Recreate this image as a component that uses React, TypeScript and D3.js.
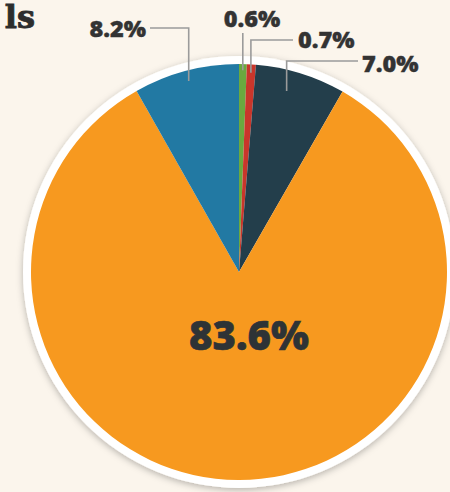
import React from "react";
import * as d3 from "d3";

const categories = ["Green", "Red", "Navy", "Orange", "Blue"];
const values = [0.6, 0.7, 7.0, 83.6, 8.2];
const labels = ["0.6%", "0.7%", "7.0%", "83.6%", "8.2%"];
const colors = ["#6aa93f", "#c9362b", "#233e4b", "#f7991f", "#2279a3"];

const W = 450, H = 492;
const cx = 239, cy = 272, R = 208;

// label layout: text position, leader style
const layout: any[] = [
  { tx: 252, ty: 27, anchor: "middle", frac: 0.5, rr: 0.97, lineY: 33, fromX: null, size: 23.5 },
  { tx: 298, ty: 48, anchor: "start", frac: 0.5, rr: 0.96, lineY: 40, fromX: 293, size: 23.5 },
  { tx: 362, ty: 72, anchor: "start", frac: 0.4, rr: 0.9, lineY: 61, fromX: 358, size: 23.5 },
  null,
  { tx: 146, ty: 37, anchor: "end", frac: 0.5, rr: 0.95, lineY: 28, fromX: 150, size: 23.5 },
];

export default function App() {
  const pie = d3.pie<number>().sort(null).value((d) => d).startAngle(0).endAngle(Math.PI * 2);
  const arcs = pie(values);
  const arc = d3.arc<any>().innerRadius(0).outerRadius(R);
  return (
    <div style={{ position: "fixed", left: 0, top: 0, width: W, height: H }}>
      <svg width={W} height={H} style={{ display: "block", background: "#fbf5ec" }}>
        <defs>
          <filter id="sh" x="-20%" y="-20%" width="140%" height="140%">
            <feDropShadow dx="0" dy="2" stdDeviation="3.5" floodColor="#000" floodOpacity="0.28" />
          </filter>
        </defs>
        <rect width={W} height={H} fill="#fbf5ec" />
        <text x={35} y={28} textAnchor="end" fontFamily="DejaVu Serif" fontWeight="bold" fontSize={32} fill="#2d2d2d" stroke="#2d2d2d" strokeWidth={0.9}>ls</text>
        <circle cx={cx} cy={cy} r={R + 8} fill="#ffffff" filter="url(#sh)" />
        <g transform={`translate(${cx},${cy})`}>
          {arcs.map((a, i) => (
            <path key={categories[i]} d={arc(a) as string} fill={colors[i]} />
          ))}
        </g>
        {arcs.map((a, i) => {
          const L = layout[i];
          if (!L) return null;
          const ang = a.startAngle + (a.endAngle - a.startAngle) * L.frac;
          const ax = cx + R * L.rr * Math.sin(ang);
          const ay = cy - R * L.rr * Math.cos(ang);
          const pts = L.fromX == null
            ? `${ax},${L.lineY} ${ax},${ay}`
            : `${L.fromX},${L.lineY} ${ax},${L.lineY} ${ax},${ay}`;
          return (
            <g key={"l" + i}>
              <polyline points={pts} fill="none" stroke="#9b9b9b" strokeWidth={1.6} />
              <text x={L.tx} y={L.ty} textAnchor={L.anchor} fontFamily="Open Sans" fontWeight={800} fontSize={L.size} fill="#333333" stroke="#333333" strokeWidth={0.4}>{labels[i]}</text>
            </g>
          );
        })}
        <text x={249} y={350} textAnchor="middle" fontFamily="Open Sans" fontWeight={800} fontSize={40} fill="#2e3336" stroke="#2e3336" strokeWidth={0.6}>{labels[3]}</text>
      </svg>
    </div>
  );
}
